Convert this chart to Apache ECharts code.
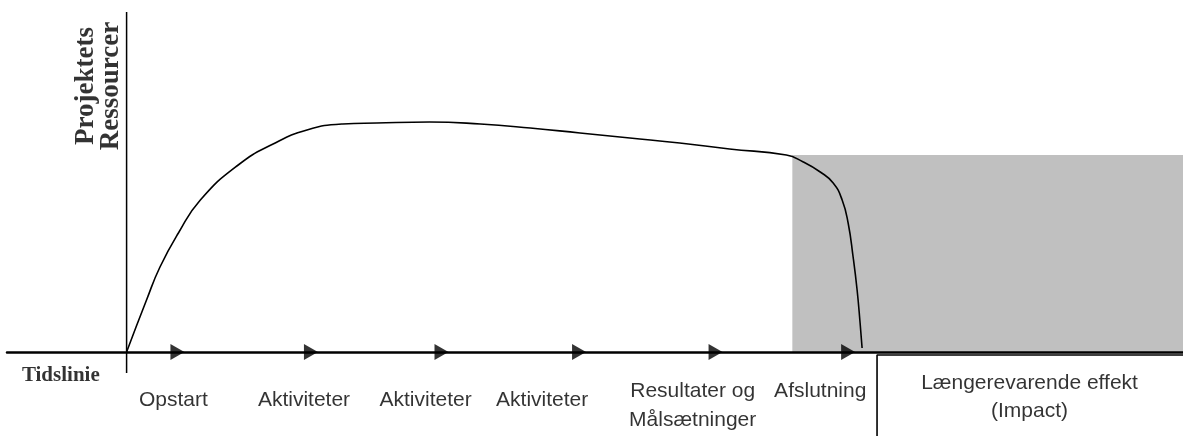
<!DOCTYPE html>
<html>
<head>
<meta charset="utf-8">
<title>Projektets Ressourcer</title>
<script src="https://cdn.jsdelivr.net/npm/echarts@6.0.0/dist/echarts.min.js"></script>
<style>
  html, body { margin: 0; padding: 0; background: #fff; }
  #chart { width: 1183px; height: 436px; }
</style>
</head>
<body>
<div id="chart"></div>
<script type="text/javascript">
// axis ranges (time units / resource units)
var xMin = -12, xMax = 106;
var yMin = -8.4, yMax = 34;

// resource curve over the project time line
var curveX = [0, 2.0, 3.35, 5.2, 7.4, 11.2, 14.7, 18.1, 21.7, 25.1, 30.4, 35.5, 40.5, 45.5, 50.5, 55.5, 60.5, 66.2, 67.9, 69.6, 70.9, 71.8, 72.4, 72.9, 73.3, 73.6, 73.8];
var curveY = [0, 5.2, 8.5, 11.9, 15.2, 18.7, 20.8, 22.2, 22.8, 22.9, 23.0, 22.8, 22.4, 21.9, 21.4, 20.9, 20.3, 19.7, 19.0, 18.0, 16.9, 15.2, 12.9, 9.5, 6.2, 2.9, 0.4];

// arrow heads on the time line
var arrowX = [5.1, 18.5, 31.6, 45.4, 59.1, 72.4];

// phase labels below the time line
var phaseNames = ['Opstart', 'Aktiviteter', 'Aktiviteter', 'Aktiviteter', 'Resultater og\nMålsætninger', 'Afslutning'];
var phaseX = [4.7, 17.8, 30.0, 41.7, 56.8, 69.6];
var phaseY = [-4.8, -4.8, -4.8, -4.8, -5.4, -3.9];

// long lasting effect (grey area + box)
var effectX = [66.8, 106];
var effectTop = 19.7;
var impactName = 'Længerevarende effekt\n(Impact)';
var impactX = 90.6, impactY = -4.5;
var boxX = 75.3, boxTop = -0.3;

// vertical resource axis
var resAxisY = [-2.1, 34];
var resTitle = 'Projektets\nRessourcer';
var resTitleX = -2.8, resTitleY = 26.6;
var timeTitle = 'Tidslinie';
var timeTitleX = -6.6, timeTitleY = -2.4;

function zip(xs, ys) {
  var out = [];
  for (var i = 0; i < xs.length; i++) out.push([xs[i], ys[i]]);
  return out;
}

var phaseData = [];
for (var i = 0; i < phaseNames.length; i++) {
  phaseData.push({ value: [phaseX[i], phaseY[i]], name: phaseNames[i] });
}
phaseData.push({ value: [impactX, impactY], name: impactName, label: { lineHeight: 28 } });

var chart = echarts.init(document.getElementById('chart'));
var option = {
  animation: false,
  grid: { left: 7, right: 0, top: 12, bottom: 0 },
  xAxis: {
    type: 'value', min: xMin, max: xMax, z: 5,
    axisLine: { onZero: true, lineStyle: { color: '#000', width: 2.5 } },
    axisTick: { show: false }, axisLabel: { show: false }, splitLine: { show: false }
  },
  yAxis: {
    type: 'value', min: yMin, max: yMax,
    axisLine: { show: false }, axisTick: { show: false },
    axisLabel: { show: false }, splitLine: { show: false }
  },
  series: [
    {
      // grey effect area
      type: 'line', data: [], z: 1,
      markArea: {
        silent: true,
        itemStyle: { color: '#c0c0c0' },
        data: [[{ coord: [effectX[0], 0] }, { coord: [effectX[1], effectTop] }]]
      }
    },
    {
      // vertical axis
      type: 'line', z: 3, symbol: 'none',
      data: [[0, resAxisY[0]], [0, resAxisY[1]]],
      lineStyle: { color: '#000', width: 1.5 }
    },
    {
      // resources curve
      type: 'line', z: 4, symbol: 'none', smooth: 0.5,
      data: zip(curveX, curveY),
      lineStyle: { color: '#000', width: 1.6 }
    },
    {
      // impact box
      type: 'line', z: 4, symbol: 'none',
      data: [[xMax, boxTop], [boxX, boxTop], [boxX, yMin]],
      lineStyle: { color: '#000', width: 1.6 }
    },
    {
      type: 'scatter', z: 6, symbol: 'triangle', symbolSize: [16, 14], symbolRotate: -90,
      itemStyle: { color: '#000' },
      data: arrowX.map(function (x) { return [x, 0]; })
    },
    {
      type: 'scatter', z: 6, symbolSize: 1,
      itemStyle: { color: 'transparent' },
      label: {
        show: true, position: 'inside', color: '#000',
        fontFamily: 'Liberation Sans, Arial, sans-serif', fontSize: 21, lineHeight: 29,
        align: 'center', verticalAlign: 'middle',
        formatter: function (p) { return p.name; }
      },
      data: phaseData
    },
    {
      type: 'scatter', z: 6, symbolSize: 1,
      itemStyle: { color: 'transparent' },
      label: {
        show: true, position: 'inside', color: '#000',
        fontFamily: 'Liberation Serif, Times New Roman, serif', fontWeight: 'bold',
        fontSize: 21, align: 'center', verticalAlign: 'middle',
        formatter: function (p) { return p.name; }
      },
      data: [
        { value: [timeTitleX, timeTitleY], name: timeTitle },
        { value: [resTitleX, resTitleY], name: resTitle, label: { rotate: 90, fontSize: 27, lineHeight: 25 } }
      ]
    }
  ]
};
chart.setOption(option);
</script>
</body>
</html>
